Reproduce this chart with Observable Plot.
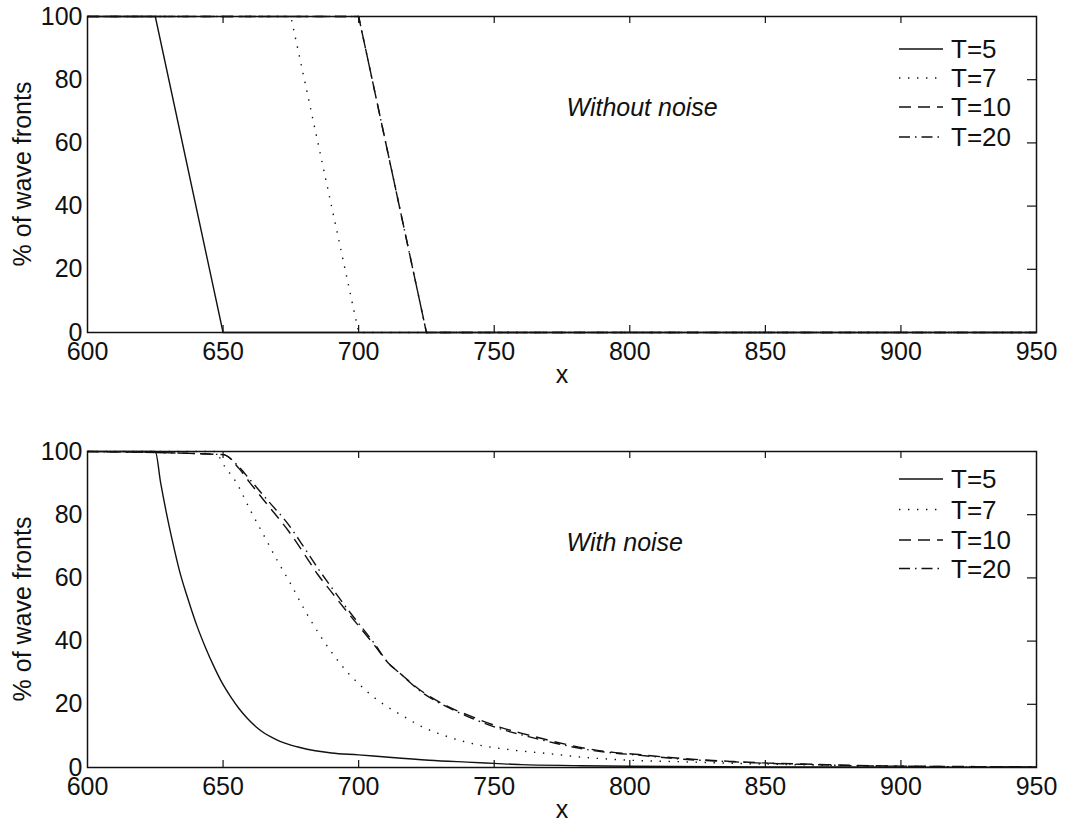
<!DOCTYPE html>
<html>
<head>
<meta charset="utf-8">
<script src="https://cdn.jsdelivr.net/npm/d3@7"></script>
<script src="https://cdn.jsdelivr.net/npm/@observablehq/plot@0.6"></script>
<style>
  html, body { margin: 0; padding: 0; background: #fff; }
  #chart { width: 1065px; height: 832px; }
  #chart svg { display: block; }
</style>
</head>
<body>
<div id="chart"></div>
<script>
// ---------- data ----------
const xTicks = [600, 650, 700, 750, 800, 850, 900, 950];
const yTicks = [0, 20, 40, 60, 80, 100];
const seriesNames = ["T=5", "T=7", "T=10", "T=20"];
const yLabel = "% of wave fronts";
const xLabel = "x";
const notes = ["Without noise", "With noise"];

// Top panel: without noise
const noNoiseT5x  = [600, 625, 650, 950];
const noNoiseT5y  = [100, 100, 0, 0];
const noNoiseT7x  = [600, 675, 700, 950];
const noNoiseT7y  = [100, 100, 0, 0];
const noNoiseT10x = [600, 700, 725, 950];
const noNoiseT10y = [100, 100, 0, 0];
const noNoiseT20x = [600, 700, 725, 950];
const noNoiseT20y = [100, 100, 0, 0];

// Bottom panel: with noise
const noiseT5x = [600, 625, 627, 629, 631.5, 634, 637, 640.5, 643.5, 646.6, 649.5, 652.7, 656, 659, 662, 665, 668, 671, 675, 678, 684, 690, 700, 710, 726, 740, 750, 760, 780, 800, 850, 900, 950];
const noiseT5y = [100, 100, 90, 81, 71, 62, 53.5, 44.5, 38, 32, 27, 22.5, 18.5, 15.5, 13, 11, 9.5, 8.3, 7.1, 6.4, 5.3, 4.6, 4, 3.3, 2.3, 1.7, 1.3, 0.9, 0.6, 0.4, 0.2, 0.1, 0.05];

const noiseT7x = [600, 647, 650, 655, 660, 665, 670, 675, 680, 686, 690, 696, 700, 707, 711, 716, 722, 733, 745, 757, 770, 782, 800, 820, 840, 860, 880, 900, 925, 950];
const noiseT7y = [100, 100, 96, 90, 81.5, 73.5, 65.5, 58, 50, 41.5, 36.5, 30, 26.5, 21.3, 19, 16.5, 13.5, 9.7, 7, 5.5, 4.4, 3.3, 2.3, 1.8, 1.3, 0.9, 0.6, 0.4, 0.2, 0.1];

const noiseT10x = [600, 650, 656, 660, 667, 674, 680, 685, 690, 696, 706, 711, 715, 723, 733, 742, 752, 763, 773, 784, 794, 802, 820, 838, 851, 869, 881, 900, 925, 950];
const noiseT10y = [100, 99, 94.5, 90, 82.5, 75, 67.5, 61, 55.5, 49, 38.5, 33, 30, 24.3, 19.3, 16, 12.8, 10.2, 8, 6, 4.8, 4.2, 2.8, 1.9, 1.4, 1, 0.7, 0.45, 0.3, 0.2];

const noiseT20x = [600, 650, 656, 660, 667, 674, 680, 685, 690, 696, 706, 711, 715, 723, 733, 742, 752, 763, 773, 784, 794, 802, 820, 838, 851, 869, 881, 900, 925, 950];
const noiseT20y = [100, 99, 95, 91, 84, 77, 69.5, 63, 57, 50, 39, 33, 30, 24, 19, 15.5, 12.3, 9.7, 7.6, 5.7, 4.6, 4, 2.6, 1.8, 1.3, 0.9, 0.6, 0.4, 0.25, 0.15];

// ---------- styling ----------
const INK = "#111";
const FONT = "'Liberation Sans', Arial, Helvetica, sans-serif";
const dashes = [null, "1.4,7.6", "12,7", "11,5,1.5,5"];
const W = 1065, H = 416;
const mL = 87, mR = 29, plotH = 316;
const tickLen = 7;
const FS = 25;

function toRows(xs, ys, name) {
  return xs.map((x, i) => ({x, y: ys[i], series: name}));
}

function panel({data, marginTop, marginBottom, curve, note, legendY}) {
  const plotW = W - mL - mR;
  const lineMarks = data.map((rows, i) =>
    Plot.line(rows, {x: "x", y: "y", curve, stroke: INK, strokeWidth: 1.4,
      strokeDasharray: dashes[i], strokeLinecap: "butt"})
  );
  const svg = Plot.plot({
    width: W, height: H,
    marginLeft: mL, marginRight: mR, marginTop, marginBottom,
    style: {fontFamily: FONT, fontSize: FS + "px", background: "#fff", color: INK},
    x: {domain: [600, 950], label: null},
    y: {domain: [0, 100], label: null},
    marks: [
      ...lineMarks,
      // inward ticks on bottom, top and right
      Plot.ruleX(xTicks.slice(1, -1), {x: d => d, insetTop: plotH - tickLen, stroke: INK, strokeWidth: 1.2}),
      Plot.ruleX(xTicks.slice(1, -1), {x: d => d, insetBottom: plotH - tickLen, stroke: INK, strokeWidth: 1.2}),
      Plot.ruleY(yTicks.slice(1, -1), {y: d => d, insetLeft: plotW - 9, stroke: INK, strokeWidth: 1.2}),
      Plot.frame({stroke: INK, strokeWidth: 1.5}),
      Plot.axisX(xTicks, {tickSize: 0, tickPadding: 10, label: null, fill: INK, fontSize: FS}),
      Plot.axisY(yTicks, {tickSize: 0, tickPadding: 5, label: null, fill: INK, fontSize: FS}),
      Plot.text([xLabel], {frameAnchor: "bottom", dy: 50, text: d => d, fill: INK, fontSize: FS}),
      Plot.text([note], {frameAnchor: "top-left", dx: 479, dy: 82, text: d => d,
        textAnchor: "start", fontStyle: "italic", fontSize: FS, fill: INK})
    ]
  });
  const s = d3.select(svg);
  // y-axis title
  s.append("text")
    .attr("transform", `translate(22,${marginTop + plotH / 2}) rotate(-90)`)
    .attr("text-anchor", "middle").attr("dy", "0.35em")
    .attr("font-family", FONT).attr("font-size", FS)
    .attr("fill", INK).text(yLabel);
  // legend
  const g = s.append("g").attr("font-family", FONT).attr("font-size", 26).attr("text-anchor", "start");
  seriesNames.forEach((name, i) => {
    g.append("line")
      .attr("x1", 899).attr("x2", 943)
      .attr("y1", legendY[i]).attr("y2", legendY[i])
      .attr("stroke", INK).attr("stroke-width", 1.3)
      .attr("stroke-dasharray", dashes[i]);
    g.append("text")
      .attr("x", 951).attr("y", legendY[i]).attr("dy", "0.36em")
      .attr("text-anchor", "start")
      .attr("fill", INK).text(name);
  });
  return svg;
}

const topData = [
  toRows(noNoiseT5x, noNoiseT5y, "T=5"),
  toRows(noNoiseT7x, noNoiseT7y, "T=7"),
  toRows(noNoiseT10x, noNoiseT10y, "T=10"),
  toRows(noNoiseT20x, noNoiseT20y, "T=20")
];
const botData = [
  toRows(noiseT5x, noiseT5y, "T=5"),
  toRows(noiseT7x, noiseT7y, "T=7"),
  toRows(noiseT10x, noiseT10y, "T=10"),
  toRows(noiseT20x, noiseT20y, "T=20")
];

const chart = document.getElementById("chart");
chart.append(panel({data: topData, marginTop: 16, marginBottom: 84, curve: "linear",
  note: notes[0], legendY: [49, 78, 107, 137]}));
chart.append(panel({data: botData, marginTop: 35, marginBottom: 65, curve: "monotone-x",
  note: notes[1], legendY: [63, 93.5, 124, 152.5]}));
</script>
</body>
</html>
